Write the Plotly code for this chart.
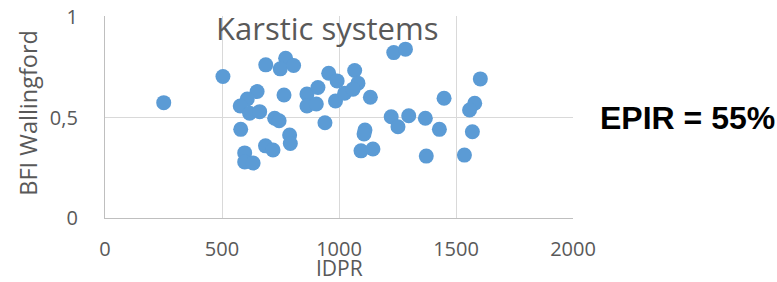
import plotly.graph_objects as go

idpr = [251, 504, 687, 772, 749, 806, 650, 765, 608, 578, 618, 661, 725, 744, 580,
        789, 792, 686, 718, 597, 597, 633, 863, 910, 863, 903, 940, 956, 992, 985,
        1024, 1067, 1081, 1060, 1134, 1111, 1107, 1094, 1145, 1234, 1284, 1223, 1252,
        1298, 1369, 1429, 1373, 1449, 1536, 1604, 1580, 1558, 1570]
bfi = [0.574, 0.704, 0.762, 0.795, 0.742, 0.759, 0.629, 0.612, 0.592, 0.557, 0.521,
       0.529, 0.496, 0.484, 0.441, 0.413, 0.371, 0.359, 0.338, 0.324, 0.279, 0.274,
       0.617, 0.649, 0.557, 0.567, 0.474, 0.720, 0.682, 0.582, 0.621, 0.734, 0.671,
       0.641, 0.601, 0.438, 0.418, 0.334, 0.343, 0.823, 0.840, 0.504, 0.454, 0.509,
       0.496, 0.441, 0.308, 0.596, 0.313, 0.692, 0.571, 0.537, 0.429]

x_ticks = [0, 500, 1000, 1500, 2000]
y_ticks = [0, 0.5, 1]
y_tick_labels = ["0", "0,5", "1"]

fig = go.Figure()
fig.add_trace(go.Scatter(
    x=idpr, y=bfi, mode="markers",
    marker=dict(size=15, color="#5B9BD5"),
    showlegend=False,
))

grey = "#595959"
fam = "Open Sans, sans-serif"
fig.update_layout(
    width=777, height=282,
    margin=dict(l=105, r=204, t=16, b=64),
    paper_bgcolor="white", plot_bgcolor="white",
    font=dict(family=fam, color=grey),
    xaxis=dict(range=[0, 2000], tickvals=x_ticks, showgrid=True, gridcolor="#d9d9d9",
               gridwidth=1.3, zeroline=False, showline=True, linecolor="#bfbfbf", linewidth=1.3,
               tickfont=dict(size=20, color=grey), ticks="", ticklabelstandoff=13,
               automargin=False),
    yaxis=dict(range=[0, 1.005], tickvals=y_ticks, ticktext=y_tick_labels, showgrid=True,
               gridcolor="#d9d9d9", gridwidth=1.3, zeroline=False, showline=True,
               linecolor="#bfbfbf", linewidth=1.3, tickfont=dict(size=20, color=grey), ticks="",
               ticklabelstandoff=22, automargin=False),
)

fig.add_annotation(text="Karstic systems", xref="paper", yref="paper", x=0.48, y=1.0,
                   xanchor="center", yanchor="top", showarrow=False,
                   font=dict(size=31, color=grey, family=fam), yshift=11, xshift=-3)
fig.add_annotation(text="BFI Wallingford", xref="paper", yref="paper", x=-0.165, y=0.52,
                   xanchor="center", yanchor="middle", showarrow=False, textangle=-90,
                   font=dict(size=23.5, color=grey, family=fam))
fig.add_annotation(text="IDPR", xref="paper", yref="paper", x=0.5, y=0,
                   xanchor="center", yanchor="middle", showarrow=False,
                   font=dict(size=21, color=grey, family=fam), yshift=-50)
fig.add_annotation(text="<b>EPIR = 55%</b>", xref="paper", yref="paper", x=1.06, y=0.5,
                   xanchor="left", yanchor="middle", showarrow=False,
                   font=dict(size=32, color="black", family="Liberation Sans, Arial, sans-serif"),
                   yshift=-1, xshift=-3)

fig.write_html("out.html", config={"displayModeBar": False},
               post_script="document.body.style.margin='0';")
